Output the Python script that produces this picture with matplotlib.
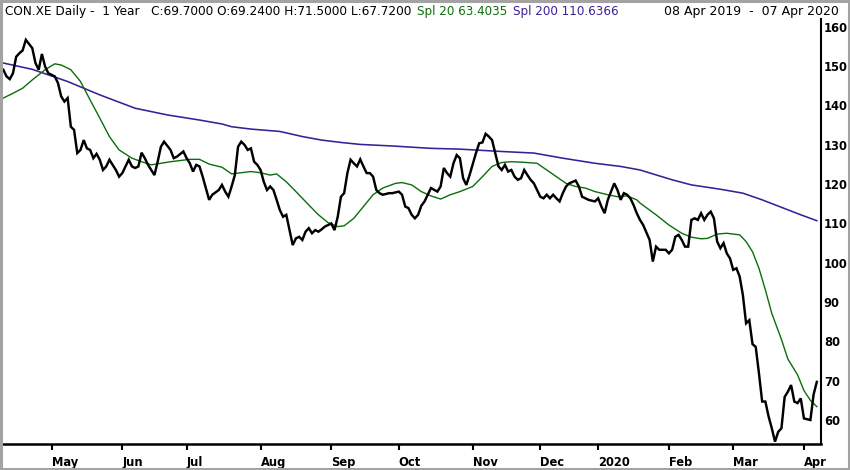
import numpy as np
import pandas as pd
import matplotlib
matplotlib.use("Agg")
import matplotlib.pyplot as plt
from matplotlib.patches import Rectangle

# trading calendar (Xetra), 08 Apr 2019 - 07 Apr 2020
start_date = "2019-04-08"
end_date = "2020-04-07"
holidays = ["2019-04-19", "2019-04-22", "2019-05-01", "2019-12-24",
            "2019-12-25", "2019-12-26", "2019-12-31", "2020-01-01"]

# daily close (session number -> price)
close_day = [0, 1, 2, 3, 4, 5, 6, 7, 9, 10, 11, 12, 13, 14, 16, 17, 18, 19, 20, 21,
             22, 23, 24, 25, 26, 27, 28, 29, 30, 31, 32, 33, 34, 35, 36, 37, 39, 40, 41, 42,
             43, 44, 45, 47, 48, 49, 50, 52, 53, 54, 56, 57, 58, 59, 60, 61, 62, 63, 64,
             65, 67, 68, 69, 70, 71, 72, 73, 74, 75, 76, 77, 78, 79, 80, 81, 82, 83, 84,
             85, 86, 87, 88, 89, 90, 91, 92, 93, 94, 95, 96, 97, 98, 99, 100, 102, 103, 104,
             105, 106, 107, 108, 109, 110, 111, 112, 113, 114, 115, 116, 117, 118, 120, 121,
             123, 124, 125, 126, 127, 128, 129, 130, 131, 132, 133,
             135, 136, 137, 138, 139, 140, 141, 142, 143, 144, 145, 147, 148, 149, 150, 151,
             152, 153, 154, 155, 156, 157, 158, 159, 160, 161, 162, 163, 164, 165, 166, 167,
             168, 169, 170, 171, 172, 173, 174, 175, 176, 178, 179, 180, 181, 182, 184, 185,
             186, 187, 188, 189, 190, 191, 192, 193, 194, 195, 196, 197, 198,
             199, 201, 202, 203, 204, 206, 207, 208, 209, 210, 211, 212, 213, 214, 215, 216,
             217, 218, 219, 220, 221, 222, 223, 224, 225, 226, 227, 228, 229, 230, 231, 232,
             233, 234, 235, 236, 237, 238, 239, 240, 241, 242, 243, 244, 245, 246, 247, 248,
             249, 250, 251, 252, 253]
close = [149.1, 147.4, 146.7, 148.2, 152.4, 153.3, 154.0, 156.7, 154.6, 150.8, 149.1, 153.1,
         149.9, 148.2, 147.4, 145.7, 142.3, 141.0, 141.9, 134.6, 133.8, 127.9, 128.7, 131.2,
         129.1, 128.7, 126.6, 127.7, 126.2, 123.6, 124.5, 126.2, 124.9, 123.6, 121.9, 122.8,
         126.2, 124.5, 124.1, 124.5, 128.0, 126.6, 124.9, 122.3, 125.7, 129.5, 130.8, 128.7,
         126.6, 127.0, 128.3, 126.6, 125.3, 123.2, 124.9, 124.5, 121.9, 118.9, 116.0,
         117.3, 118.5, 119.8, 118.1, 116.8, 119.4, 122.3, 129.5, 130.8, 130.0, 128.7, 129.1,
         125.7, 124.9, 123.6, 120.6, 118.5, 119.4, 118.5, 116.0, 113.4, 111.7, 112.2, 108.3,
         104.5, 106.2, 106.6, 105.8, 107.9, 108.8, 107.5, 108.3, 107.9, 108.5, 109.2, 110.0,
         108.3, 111.7, 116.8, 117.7, 122.8, 126.2, 125.3, 124.5, 126.3, 124.5, 122.8, 122.8,
         121.9, 118.5, 117.7, 117.3, 117.7, 117.7, 118.1, 117.3, 114.3, 113.9, 112.2, 111.3,
         112.2, 114.5, 115.6, 117.3, 119.0,
         118.1, 119.4, 124.1, 122.8, 121.9, 125.3, 127.4, 126.6, 121.5, 119.8, 122.3, 127.9,
         130.4, 130.6, 132.8, 132.1, 131.2, 127.9, 124.5, 123.6, 124.9, 123.2, 123.6, 121.9,
         121.1, 121.5, 123.6, 122.3, 121.1, 120.2, 118.5, 116.8, 116.4, 117.3, 116.4, 117.3,
         116.4, 115.6, 117.7, 119.4, 120.2, 120.9, 119.4, 116.8, 116.4, 116.0, 115.6, 116.4,
         114.3, 112.6, 116.0, 118.1, 120.2, 118.5, 116.0, 117.7, 117.3, 116.4, 114.7, 112.6,
         110.9,
         109.6, 105.8, 100.3, 104.1, 103.3, 103.3, 102.4, 103.3, 106.6, 107.1, 105.8, 104.1,
         104.1, 110.9, 111.3, 110.9, 112.6, 110.9, 112.2, 113.0, 111.3, 105.4, 103.7, 105.0,
         102.4, 101.1, 98.2, 98.6, 96.5, 91.8, 84.6, 85.4, 79.3, 78.6, 71.9, 64.7, 64.7,
         60.9, 57.9, 54.5, 57.0, 57.9, 65.9, 67.2, 68.9, 64.7, 64.3, 65.5, 60.4, 60.2, 60.0,
         66.5, 69.7]

# Spl 20 (green)
spl20_day = [0, 3, 6, 9, 13, 16, 18, 21, 24, 27, 30, 33, 36, 40, 43, 46, 49, 52, 55, 58,
             61, 64, 68, 71, 74, 77, 80, 83, 85, 88, 91, 95, 98, 101, 104, 106, 109, 112,
             115, 118, 122, 124, 127, 130, 133, 136, 139, 142, 146, 149, 152, 155, 158, 161,
             166, 169, 172, 175, 178, 181, 184, 188, 191, 194, 197, 198, 203, 207, 211, 214,
             217, 219, 222, 225, 229, 231, 233, 235, 237, 239, 242, 244, 247, 249, 251, 253]
spl20 = [141.9, 143.1, 144.4, 146.5, 149.1, 150.6, 150.3, 149.1, 146.1, 141.4, 136.8, 132.1,
         128.7, 126.6, 125.7, 124.9, 125.3, 125.7, 126.0, 126.3, 126.3, 125.1, 124.3, 122.6,
         122.9, 123.2, 122.9, 122.3, 122.6, 120.6, 118.1, 114.7, 112.2, 110.2, 109.2, 109.4,
         111.3, 114.3, 117.3, 119.0, 120.2, 120.4, 119.8, 118.1, 117.0, 116.2, 117.3, 118.1,
         119.4, 121.9, 124.5, 125.5, 125.7, 125.6, 125.3, 123.6, 121.9, 120.2, 119.4, 119.0,
         118.1, 117.3, 116.8, 117.0, 116.0, 115.2, 112.2, 109.6, 107.5, 106.5, 106.1, 106.2,
         107.3, 107.5, 107.1, 105.4, 102.8, 98.6, 93.1, 87.1, 80.5, 75.5, 71.5, 67.5, 65.0,
         63.4]

# Spl 200 (purple)
spl200_day = [0, 9, 20, 30, 41, 51, 61, 68, 71, 77, 86, 93, 99, 105, 111, 121, 127, 133,
              142, 155, 165, 174, 184, 192, 198, 208, 214, 223, 230, 236, 242, 248, 253]
spl200 = [150.8, 149.2, 146.1, 142.7, 139.3, 137.6, 136.3, 135.3, 134.6, 134.0, 133.4, 132.1,
          131.2, 130.6, 130.1, 129.7, 129.4, 129.1, 128.9, 128.3, 127.9, 126.6, 125.3, 124.5,
          123.6, 121.1, 119.8, 118.7, 117.7, 116.0, 114.1, 112.2, 110.7]

y_ticks = [60, 70, 80, 90, 100, 110, 120, 130, 140, 150, 160]

header_main = "CON.XE Daily -  1 Year   C:69.7000 O:69.2400 H:71.5000 L:67.7200"
header_spl20 = "Spl 20 63.4035"
header_spl200 = "Spl 200 110.6366"
header_range = "08 Apr 2019  -  07 Apr 2020"

GREEN = "#0b6e0b"
PURPLE = "#3b1f96"

sessions = pd.bdate_range(start_date, end_date)
sessions = sessions[~sessions.isin(pd.to_datetime(holidays))]
month_first = pd.Series(np.arange(len(sessions)), index=sessions)
month_first = month_first.groupby([sessions.year, sessions.month]).first().iloc[1:]
tick_pos = list(month_first.values)
tick_lab = []
for (yr, mo) in month_first.index:
    tick_lab.append(str(yr) if mo == 1 else pd.Timestamp(yr, mo, 1).strftime("%b"))

W, H = 850, 470
fig = plt.figure(figsize=(W / 100, H / 100), dpi=100)
ax = fig.add_axes([3 / W, (H - 444) / H, (821 - 3) / W, (444 - 19) / H])

ax.plot(spl200_day, spl200, color=PURPLE, lw=1.15, zorder=2)
ax.plot(spl20_day, spl20, color=GREEN, lw=1.0, zorder=3)
ax.plot(close_day, close, color="black", lw=1.75, zorder=4, solid_joinstyle="miter")

ax.set_xlim(-0.1, 254.3)
ax.set_ylim(53.9, 162.0)

for s in ["top", "left"]:
    ax.spines[s].set_visible(False)
ax.spines["bottom"].set_linewidth(1.8)
ax.spines["right"].set_linewidth(1.5)

ax.yaxis.tick_right()
ax.set_yticks(y_ticks)
ax.set_yticklabels([str(v) for v in y_ticks])
ax.tick_params(axis="y", length=0, pad=2, labelsize=8.3)

ax.set_xticks(tick_pos)
ax.set_xticklabels(tick_lab)
ax.tick_params(axis="x", direction="out", length=4, width=1.5, pad=4.5, labelsize=8.3)
for lab in ax.get_xticklabels() + ax.get_yticklabels():
    lab.set_fontweight("bold")
for lab in ax.get_xticklabels():
    lab.set_ha("left")

# header line
hy = 1 - 12 / H
fig.text(5 / W, hy, header_main, fontsize=8.75, va="center", ha="left")
fig.text(417 / W, hy, header_spl20, fontsize=8.6, va="center", ha="left", color=GREEN)
fig.text(513 / W, hy, header_spl200, fontsize=8.6, va="center", ha="left", color=PURPLE)
fig.text(839 / W, hy, header_range, fontsize=9.0, va="center", ha="right")

# grey frame round the picture
fig.patches.append(Rectangle((0.0015, 0.0025), 0.997, 0.995, transform=fig.transFigure,
                             fill=False, edgecolor="#a3a3a3", lw=2.2))

fig.savefig("out.png", dpi=100)
